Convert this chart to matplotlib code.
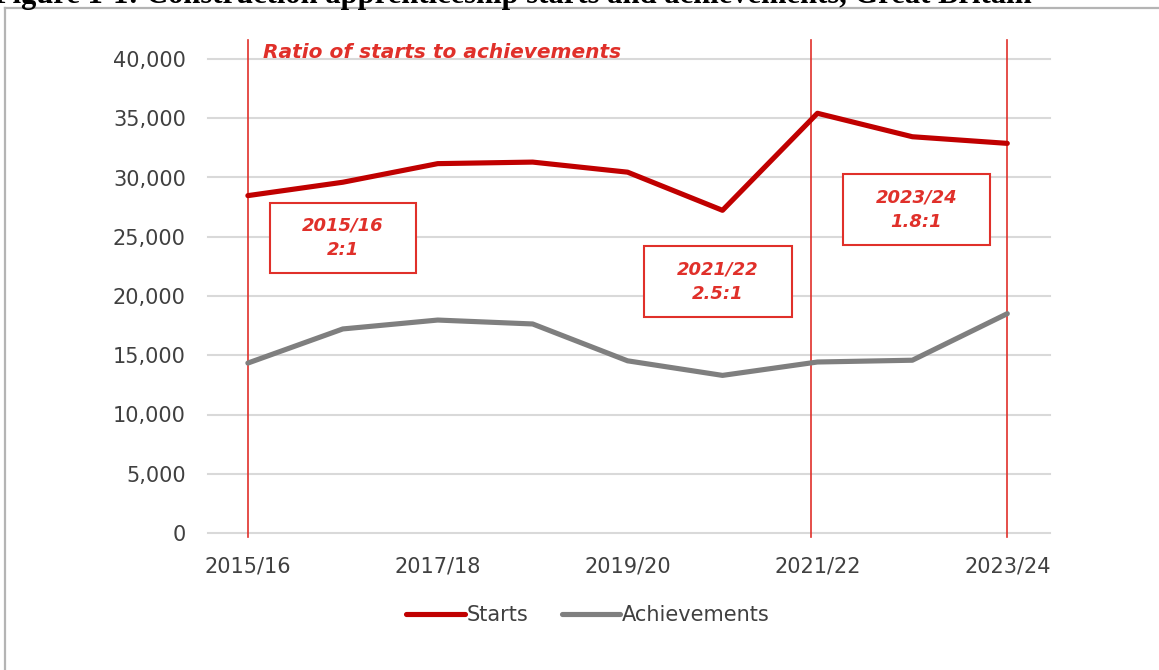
import matplotlib
matplotlib.use("Agg")
import matplotlib.pyplot as plt
from matplotlib.patches import Rectangle
from matplotlib.lines import Line2D

# data
years = ['2015/16', '2016/17', '2017/18', '2018/19', '2019/20',
         '2020/21', '2021/22', '2022/23', '2023/24']
starts = [28470, 29600, 31170, 31300, 30450, 27230, 35420, 33440, 32880]
achievements = [14340, 17220, 17970, 17640, 14530, 13300, 14430, 14580, 18510]
tick_years = ['2015/16', '2017/18', '2019/20', '2021/22', '2023/24']

ratio_labels = ['2015/16\n2:1', '2021/22\n2.5:1', '2023/24\n1.8:1']
marker_years = [0, 5.93, 8.0]

red_line = '#c00000'
grey_line = '#7f7f7f'
note_red = '#e0302a'
txt_col = '#404040'

plt.rcParams['font.family'] = 'DejaVu Sans'

W, H = 1159, 670
fig = plt.figure(figsize=(W / 100, H / 100), dpi=100)

def fx(px):
    return px / W

def fy(py):
    return 1 - py / H

# page frame and cut-off figure caption
fig.add_artist(Line2D([fx(5), 1], [fy(8), fy(8)], color='#b4b4b4', lw=1.6))
fig.add_artist(Line2D([fx(5), fx(5)], [fy(8), 0], color='#b4b4b4', lw=1.6))
fig.text(fx(-6), fy(3.5), 'Figure 1-1: Construction apprenticeship starts and achievements, Great Britain',
         family='Liberation Serif', weight='bold', fontsize=22, va='baseline', ha='left')

ax = fig.add_axes([fx(208), fy(533), fx(1050 - 208), (533 - 59) / H])
x = list(range(len(years)))
ax.plot(x, starts, color=red_line, lw=3.7, solid_capstyle='round', label='Starts', zorder=3)
ax.plot(x, achievements, color=grey_line, lw=3.7, solid_capstyle='round', label='Achievements', zorder=3)

ax.set_ylim(0, 40000)
ax.set_xlim(-0.42, 8.45)
ax.set_yticks(range(0, 40001, 5000))
ax.set_yticklabels([f'{v:,}' for v in range(0, 40001, 5000)])
ax.set_xticks([0, 2, 4, 6, 8])
ax.set_xticklabels(tick_years)
ax.grid(axis='y', color='#d9d9d9', lw=1.5, zorder=0)
for gl in ax.get_ygridlines():
    gl.set_clip_on(False)
for s in ax.spines.values():
    s.set_visible(False)
ax.tick_params(axis='both', length=0, labelsize=15, colors=txt_col)
ax.tick_params(axis='y', pad=16)
ax.tick_params(axis='x', pad=17)

# red marker lines
for xv in marker_years:
    ax.plot([xv, xv], [-350, 41600], color=note_red, lw=1.2, clip_on=False, zorder=2)

ax.text((263 - 208) / (1050 - 208), (533 - 53) / 474, 'Ratio of starts to achievements',
        transform=ax.transAxes, color=note_red, fontsize=14.5, weight='bold', style='italic',
        va='center', ha='left')

# ratio boxes (pixel boxes)
boxes = [(270, 203, 416, 273), (644, 246, 792, 317), (843, 174, 990, 245)]
for (x0, y0, x1, y1), lab in zip(boxes, ratio_labels):
    fig.add_artist(Rectangle((fx(x0), fy(y1)), fx(x1 - x0), (y1 - y0) / H,
                             fill=True, facecolor='white', edgecolor=note_red, lw=1.5))
    fig.text(fx((x0 + x1) / 2), fy((y0 + y1) / 2), lab, color=note_red, fontsize=13,
             weight='bold', style='italic', ha='center', va='center', linespacing=1.45)

ax.legend(loc='center', bbox_to_anchor=(fx(588), fy(615)), bbox_transform=fig.transFigure,
          ncol=2, frameon=False, fontsize=15, handlelength=2.8, handletextpad=0.1,
          columnspacing=1.6, labelcolor=txt_col)

fig.savefig('out.png', dpi=100)
